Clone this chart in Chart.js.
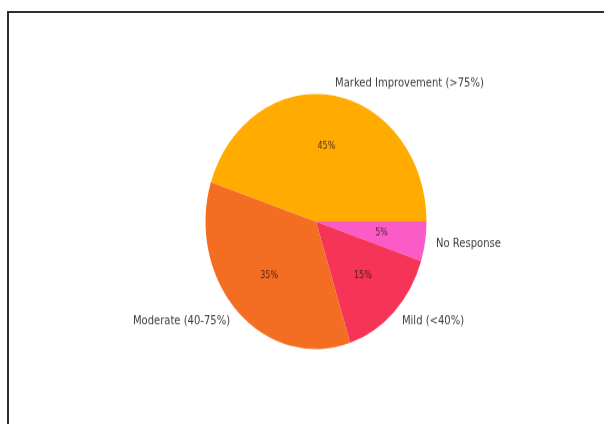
<!DOCTYPE html>
<html>
<head>
<meta charset="utf-8">
<script src="https://cdn.jsdelivr.net/npm/chart.js@4.4.0/dist/chart.umd.min.js"></script>
<style>
  html, body { margin: 0; padding: 0; background: #fff; width: 604px; height: 424px; overflow: hidden; }
  #frame { position: absolute; left: 7px; top: 11px; width: 620px; height: 440px; border-left: 2px solid #2e2e2e; border-top: 2px solid #2e2e2e; }
  #wrap { position: absolute; left: 0; top: 0; transform: scaleY(1.154); transform-origin: 0 0; }
</style>
</head>
<body>
<div id="frame"></div>
<div id="wrap"><canvas id="pieChart" width="604" height="367"></canvas></div>
<script>
const categories = ['Marked Improvement (>75%)', 'Moderate (40-75%)', 'Mild (<40%)', 'No Response'];
const values = [45, 35, 15, 5];
const colors = ['#FFAB00', '#F36D22', '#F63457', '#FA5BC6'];

// matplotlib goes counter-clockwise from 3 o'clock, Chart.js clockwise -> reverse
const revLabels = categories.slice().reverse();
const revValues = values.slice().reverse();
const revColors = colors.slice().reverse();

const pieLabels = {
  id: 'pieLabels',
  afterDatasetsDraw(chart) {
    const ctx = chart.ctx;
    const meta = chart.getDatasetMeta(0);
    const total = revValues.reduce((a, b) => a + b, 0);
    ctx.save();
    ctx.textBaseline = 'middle';
    meta.data.forEach((arc, i) => {
      const mid = (arc.startAngle + arc.endAngle) / 2;
      const r = arc.outerRadius;
      // category label outside
      const lx = arc.x + Math.cos(mid) * r * 1.1;
      const ly = arc.y + Math.sin(mid) * r * 1.1;
      ctx.font = '10px "DejaVu Sans"';
      ctx.fillStyle = '#3c3c3c';
      ctx.textAlign = Math.cos(mid) >= 0 ? 'left' : 'right';
      ctx.fillText(revLabels[i], lx, ly);
      // percentage inside
      const px = arc.x + Math.cos(mid) * r * 0.6;
      const py = arc.y + Math.sin(mid) * r * 0.6;
      ctx.font = '8px "DejaVu Sans"';
      ctx.fillStyle = 'rgba(40,20,20,0.8)';
      ctx.textAlign = 'center';
      ctx.fillText(Math.round(revValues[i] / total * 100) + '%', px, py);
    });
    ctx.restore();
  }
};

const ctx = document.getElementById('pieChart').getContext('2d');
const pieChart = new Chart(ctx, {
  type: 'pie',
  data: {
    labels: revLabels,
    datasets: [{
      data: revValues,
      backgroundColor: revColors,
      borderWidth: 0
    }]
  },
  options: {
    responsive: false,
    animation: false,
    events: [],
    rotation: 90,
    layout: {
      padding: { left: 205.5, right: 177.5, top: 81.5, bottom: 64.5 }
    },
    plugins: {
      legend: { display: false },
      tooltip: { enabled: false }
    }
  },
  plugins: [pieLabels]
});
</script>
</body>
</html>
